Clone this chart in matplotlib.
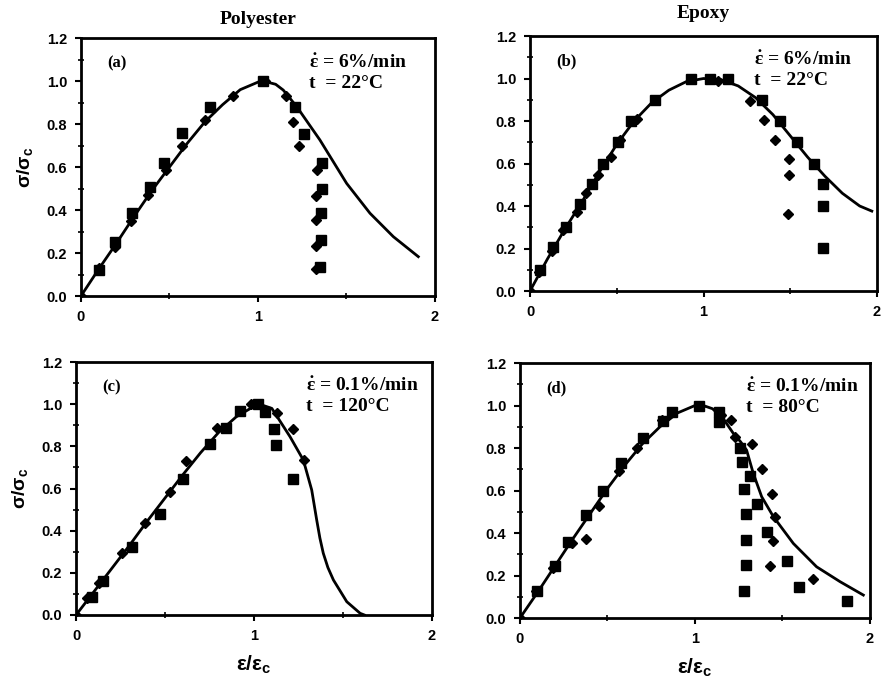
import matplotlib.pyplot as plt
from matplotlib.ticker import MultipleLocator

plt.rcParams['font.family'] = ['Liberation Sans', 'DejaVu Sans']
plt.rcParams['mathtext.fontset'] = 'custom'
plt.rcParams['mathtext.bf'] = 'Liberation Sans:bold'
plt.rcParams['mathtext.rm'] = 'Liberation Serif:bold'

# ---- panel (a): polyester, 6%/min, 22 C
a_sq_x = [0.10, 0.19, 0.29, 0.39, 0.47, 0.57, 0.73, 1.03, 1.21, 1.26, 1.36, 1.36, 1.355, 1.355, 1.35]
a_sq_y = [0.12, 0.25, 0.385, 0.506, 0.62, 0.757, 0.88, 1.0, 0.88, 0.753, 0.62, 0.50, 0.385, 0.26, 0.137]
a_di_x = [0.0, 0.10, 0.19, 0.28, 0.38, 0.48, 0.57, 0.70, 0.86, 1.04, 1.16, 1.20, 1.23, 1.335, 1.33, 1.33, 1.33, 1.33]
a_di_y = [0.0, 0.13, 0.23, 0.35, 0.47, 0.585, 0.70, 0.817, 0.93, 1.0, 0.93, 0.81, 0.70, 0.587, 0.463, 0.354, 0.233, 0.124]
a_cx = [0.0, 0.1, 0.2, 0.3, 0.4, 0.5, 0.6, 0.7, 0.8, 0.9, 1.0, 1.03, 1.1, 1.143, 1.219, 1.35, 1.501, 1.633, 1.765, 1.906]
a_cy = [0.0, 0.125, 0.245, 0.37, 0.49, 0.60, 0.71, 0.81, 0.89, 0.96, 0.995, 1.0, 0.985, 0.958, 0.881, 0.726, 0.524, 0.385, 0.276, 0.183]

# ---- panel (b): epoxy, 6%/min, 22 C
b_sq_x = [0.058, 0.135, 0.21, 0.29, 0.356, 0.42, 0.506, 0.58, 0.72, 0.93, 1.035, 1.14, 1.337, 1.44, 1.54, 1.635, 1.69, 1.69, 1.69]
b_sq_y = [0.097, 0.207, 0.30, 0.41, 0.505, 0.60, 0.70, 0.80, 0.897, 0.996, 0.996, 0.996, 0.897, 0.80, 0.70, 0.60, 0.505, 0.40, 0.204]
b_di_x = [0.0, 0.05, 0.125, 0.19, 0.27, 0.32, 0.39, 0.465, 0.52, 0.615, 1.086, 1.27, 1.346, 1.41, 1.49, 1.49, 1.487]
b_di_y = [0.0, 0.09, 0.19, 0.285, 0.37, 0.46, 0.545, 0.63, 0.71, 0.81, 0.988, 0.894, 0.803, 0.712, 0.623, 0.544, 0.364]
b_cx = [0.0, 0.1, 0.2, 0.3, 0.4, 0.5, 0.6, 0.7, 0.8, 0.9, 1.0, 1.1, 1.2, 1.3, 1.4, 1.5, 1.6, 1.7, 1.8, 1.9, 1.97]
b_cy = [0.0, 0.15, 0.29, 0.42, 0.56, 0.69, 0.80, 0.885, 0.945, 0.985, 1.0, 0.995, 0.965, 0.91, 0.83, 0.73, 0.63, 0.54, 0.46, 0.40, 0.376]

# ---- panel (c): polyester, 0.1%/min, 120 C
c_sq_x = [0.088, 0.154, 0.313, 0.47, 0.60, 0.75, 0.84, 0.92, 1.025, 1.06, 1.11, 1.125, 1.22]
c_sq_y = [0.087, 0.16, 0.324, 0.48, 0.643, 0.81, 0.885, 0.967, 1.0, 0.964, 0.88, 0.806, 0.643]
c_di_x = [0.0, 0.064, 0.13, 0.26, 0.39, 0.53, 0.62, 0.79, 0.985, 1.13, 1.22, 1.28]
c_di_y = [0.0, 0.079, 0.15, 0.295, 0.437, 0.585, 0.73, 0.885, 1.0, 0.959, 0.88, 0.735]
c_cx = [0.0, 0.1, 0.2, 0.3, 0.4, 0.5, 0.6, 0.7, 0.8, 0.9, 1.0, 1.03, 1.1, 1.202, 1.277, 1.324, 1.352, 1.37, 1.389, 1.415, 1.446, 1.521, 1.596, 1.62]
c_cy = [0.0, 0.11, 0.22, 0.33, 0.445, 0.555, 0.665, 0.77, 0.865, 0.94, 0.99, 1.0, 0.98, 0.846, 0.735, 0.593, 0.451, 0.365, 0.293, 0.225, 0.166, 0.063, 0.008, 0.0]

# ---- panel (d): epoxy, 0.1%/min, 80 C
d_sq_x = [0.10, 0.20, 0.276, 0.375, 0.476, 0.58, 0.705, 0.82, 0.867, 1.025, 1.14, 1.14, 1.257, 1.267, 1.314,
          1.28, 1.29, 1.29, 1.29, 1.28, 1.356, 1.413, 1.528, 1.596, 1.87]
d_sq_y = [0.125, 0.243, 0.36, 0.486, 0.60, 0.73, 0.847, 0.925, 0.969, 0.996, 0.922, 0.97, 0.80, 0.733, 0.67,
          0.607, 0.49, 0.365, 0.248, 0.129, 0.536, 0.405, 0.27, 0.146, 0.078]
d_di_x = [0.0, 0.09, 0.19, 0.295, 0.38, 0.453, 0.567, 0.667, 0.81, 1.03, 1.147, 1.204, 1.229, 1.324, 1.381,
          1.438, 1.457, 1.448, 1.429, 1.676]
d_di_y = [0.0, 0.125, 0.235, 0.353, 0.372, 0.525, 0.69, 0.80, 0.933, 1.0, 0.957, 0.933, 0.85, 0.82, 0.703,
          0.585, 0.474, 0.364, 0.243, 0.185]
d_cx = [0.0, 0.1, 0.2, 0.3, 0.4, 0.5, 0.6, 0.7, 0.8, 0.9, 1.0, 1.03, 1.1, 1.16, 1.219, 1.26, 1.295, 1.333, 1.381, 1.448, 1.562, 1.695, 1.829, 1.962]
d_cy = [0.0, 0.12, 0.245, 0.37, 0.49, 0.61, 0.72, 0.82, 0.90, 0.965, 1.0, 1.005, 0.985, 0.94, 0.869, 0.83, 0.79, 0.681, 0.571, 0.477, 0.351, 0.241, 0.171, 0.108]

panels = [
    ('(a)', '6%/min', '22\u00b0C', a_sq_x, a_sq_y, a_di_x, a_di_y, a_cx, a_cy, [0.0919, 0.5685, 0.4018, 0.376]),
    ('(b)', '6%/min', '22\u00b0C', b_sq_x, b_sq_y, b_di_x, b_di_y, b_cx, b_cy, [0.6016, 0.5758, 0.3939, 0.3717]),
    ('(c)', '0.1%/min', '120\u00b0C', c_sq_x, c_sq_y, c_di_x, c_di_y, c_cx, c_cy, [0.0863, 0.1035, 0.4041, 0.3688]),
    ('(d)', '0.1%/min', '80\u00b0C', d_sq_x, d_sq_y, d_di_x, d_di_y, d_cx, d_cy, [0.5902, 0.0991, 0.3973, 0.3717]),
]

serif = ['Liberation Serif', 'DejaVu Serif']
fig = plt.figure(figsize=(8.81, 6.86), dpi=100)

for i, (tag, rate, temp, sx, sy, dx, dy, cx, cy, pos) in enumerate(panels):
    ax = fig.add_axes(pos)
    ax.plot(cx, cy, color='black', linewidth=2.0, zorder=2)
    ax.plot(sx, sy, linestyle='none', marker='s', markersize=6.5, color='black', zorder=3)
    ax.plot(dx, dy, linestyle='none', marker='D', markersize=5.5, color='black', zorder=3)
    ax.set_xlim(0, 2)
    ax.set_ylim(0, 1.2)
    ax.xaxis.set_major_locator(MultipleLocator(1))
    ax.xaxis.set_minor_locator(MultipleLocator(0.5))
    ax.yaxis.set_major_locator(MultipleLocator(0.2))
    ax.yaxis.set_minor_locator(MultipleLocator(0.1))
    ax.set_xticklabels([f'{v:g}' for v in ax.get_xticks()])
    ax.set_yticklabels([f'{v:.1f}' for v in ax.get_yticks()])
    ax.tick_params(which='major', direction='out', length=4, width=1.5,
                   labelsize=10.5, pad=6)
    ax.tick_params(which='minor', direction='inout', length=4, width=1.2)
    for lbl in ax.get_xticklabels() + ax.get_yticklabels():
        lbl.set_fontweight('bold')
    for sp in ax.spines.values():
        sp.set_linewidth(2.0)

    ax.text(0.075, 0.90, tag, transform=ax.transAxes, fontsize=12,
            fontweight='bold', family=serif, va='center')
    ax.text(0.645, 0.905, r'$\mathrm{\dot{\epsilon}}$ = ' + rate, transform=ax.transAxes,
            fontsize=14, fontweight='bold', family=serif, va='center')
    ax.text(0.645, 0.825, 't  = ' + temp, transform=ax.transAxes,
            fontsize=14, fontweight='bold', family=serif, va='center')

    if i % 2 == 0:
        ax.set_ylabel(r'$\mathbf{\sigma/\sigma_c}$', fontsize=14, labelpad=8)
    if i >= 2:
        ax.set_xlabel(r'$\mathbf{\varepsilon/\varepsilon_c}$', fontsize=15, labelpad=8)
    if i == 0:
        ax.set_title('Polyester', fontsize=14, fontweight='bold', family=serif, pad=10)
    if i == 1:
        ax.set_title('Epoxy', fontsize=14, fontweight='bold', family=serif, pad=13)

fig.savefig('out.png', dpi=100)
